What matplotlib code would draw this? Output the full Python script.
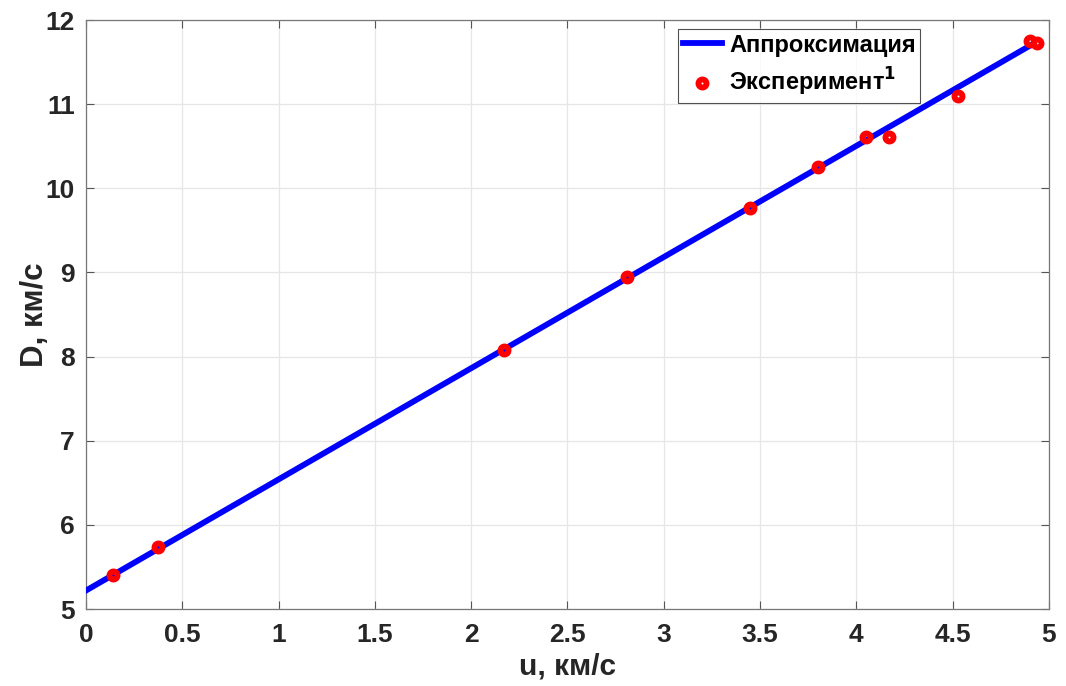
import numpy as np
import matplotlib.pyplot as plt

# experimental points
u_exp = [0.14, 0.374, 2.17, 2.81, 3.45, 3.80, 4.05, 4.17, 4.53, 4.90, 4.94]
D_exp = [5.40, 5.74, 8.08, 8.95, 9.77, 10.25, 10.61, 10.61, 11.10, 11.75, 11.73]

# approximation line ends
u_fit = [0.0, 4.92]
D_fit = [5.22, 11.72]

x_ticks = [0, 0.5, 1, 1.5, 2, 2.5, 3, 3.5, 4, 4.5, 5]
x_labels = ['0', '0.5', '1', '1.5', '2', '2.5', '3', '3.5', '4', '4.5', '5']
y_ticks = [5, 6, 7, 8, 9, 10, 11, 12]

plt.rcParams['font.family'] = ['Liberation Sans', 'DejaVu Sans']
plt.rcParams['font.weight'] = 'bold'
plt.rcParams['mathtext.default'] = 'bf'

txt = '#262626'
fig = plt.figure(figsize=(10.66, 6.86), dpi=100)
ax = fig.add_axes([0.0807, 0.1122, 0.9033, 0.8586])

ax.plot(u_fit, D_fit, color='#0000ff', lw=4.2, label='Аппроксимация', zorder=3)
ax.plot(u_exp, D_exp, 'o', ms=5.8, mfc='none', mec='#ff0000', mew=4.2,
        label='Эксперимент$^{1}$', zorder=4)

ax.set_xlim(0, 5)
ax.set_ylim(5, 12)
ax.set_xticks(x_ticks)
ax.set_xticklabels(x_labels)
ax.set_yticks(y_ticks)
ax.grid(True, color='#e6e6e6', lw=0.9)
ax.set_axisbelow(True)
ax.tick_params(direction='in', length=6, width=0.8, colors='#555555',
               labelcolor=txt, labelsize=19, top=True, right=True)
ax.tick_params(axis='x', pad=10)
ax.tick_params(axis='y', pad=8)
for s in ax.spines.values():
    s.set_color('#777777')
    s.set_linewidth(0.9)

ax.set_xlabel('u, км/с', fontsize=21.5, fontweight='bold', color=txt, labelpad=4)
ax.set_ylabel('D, км/с', fontsize=22.5, fontweight='bold', color=txt, labelpad=-3)

leg = ax.legend(loc='upper left', bbox_to_anchor=(0.615, 0.985), fontsize=17,
                frameon=True, fancybox=False, edgecolor='#262626',
                handlelength=1.65, handletextpad=0.3, borderpad=0.2,
                labelspacing=0.4, borderaxespad=0)
leg.get_frame().set_linewidth(0.8)
for t in leg.get_texts():
    t.set_fontweight('bold')

fig.savefig('out.png', dpi=100)
